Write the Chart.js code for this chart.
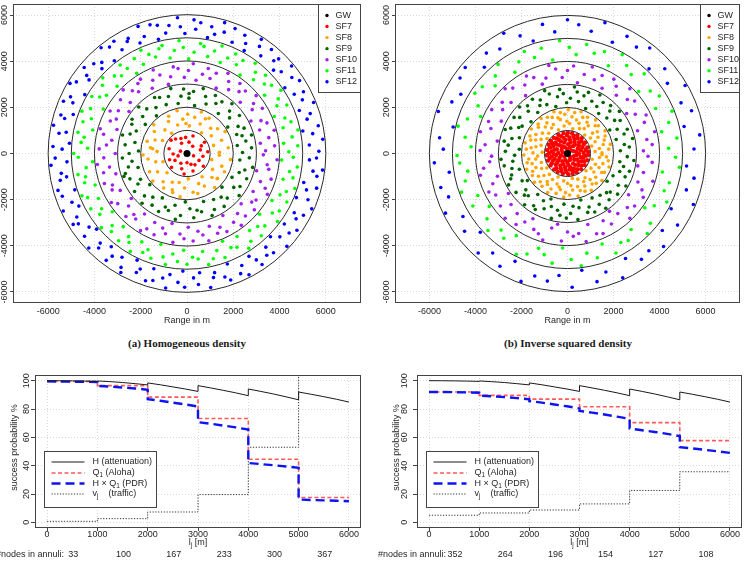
<!DOCTYPE html>
<html>
<head>
<meta charset="utf-8">
<script src="https://cdn.jsdelivr.net/npm/chart.js@4.4.1/dist/chart.umd.min.js"></script>
<style>
  body { margin: 0; background: #fff; }
  #page { position: relative; width: 744px; height: 564px; overflow: hidden; }
  canvas { position: absolute; }
  .caption { position: absolute; width: 372px; text-align: center; line-height: 14px;
             font: bold 11px "Liberation Serif", "DejaVu Serif", serif; color: #1a1a1a; }
</style>
</head>
<body>
<div id="page">
  <canvas id="mapHom" width="372" height="332" style="left:0;top:0"></canvas>
  <canvas id="mapInv" width="372" height="332" style="left:372px;top:0"></canvas>
  <div class="caption" style="left:1px;top:337px">(a) Homogeneous density</div>
  <div class="caption" style="left:382px;top:337px">(b) Inverse squared density</div>
  <canvas id="probHom" width="372" height="204" style="left:0;top:360px"></canvas>
  <canvas id="probInv" width="372" height="204" style="left:372px;top:360px"></canvas>
</div>
<script>
// ---------------- data ----------------
const sfNames = ['SF7', 'SF8', 'SF9', 'SF10', 'SF11', 'SF12'];
const sfColors = ['#ff0000', '#ffa500', '#006400', '#a020f0', '#00ff00', '#0000ff'];
const ringRadii = [1000, 2000, 3000, 4000, 5000, 6000];
const mapTicks = [-6000, -4000, -2000, 0, 2000, 4000, 6000];

// node positions, pairs of [radius in 100 m, angle in degrees]
const homSF7 = [6,15, 9,33, 4,52, 8,71, 7,95, 5,118, 9,140, 3,160, 6,182, 8,200, 9,222, 5,238, 7,251, 4,270, 8,289, 6,305, 9,322, 3,340, 7,350, 5,80, 8,128, 6,210, 9,262, 7,28, 4,195, 8,165, 9,5, 6,330, 7,112, 5,290];
const homSF8 = [14,2, 18,8, 12,17, 16,21, 19,30, 13,36, 17,39, 15,47, 11,55, 18,58, 14,66, 19,71, 16,78, 12,85, 17,89, 15,97, 19,103, 13,108, 18,116, 16,120, 11,127, 14,133, 19,139, 17,146, 12,152, 15,157, 18,163, 16,171, 13,176, 19,182, 17,188, 14,195, 11,199, 18,206, 15,212, 19,219, 12,224, 16,230, 18,236, 14,243, 17,248, 13,255, 19,261, 15,266, 11,273, 17,279, 18,285, 14,291, 16,298, 12,303, 19,309, 15,316, 17,321, 13,328, 18,334, 16,340, 11,346, 19,352, 14,357, 17,62, 15,172, 18,250, 13,92, 17,320];
const homSF9 = [24,1, 28,5, 22,9, 26,12, 29,16, 23,21, 27,24, 25,28, 21,33, 28,36, 24,40, 26,45, 29,48, 22,52, 27,56, 25,60, 28,64, 23,69, 26,72, 29,76, 21,81, 27,84, 24,88, 28,93, 25,96, 22,100, 29,104, 26,108, 23,113, 27,116, 28,120, 24,124, 21,129, 26,132, 29,136, 25,140, 22,145, 28,148, 27,152, 24,156, 26,161, 29,164, 23,168, 27,172, 21,177, 25,180, 28,184, 24,188, 26,193, 22,196, 29,200, 27,204, 23,209, 25,212, 28,216, 21,220, 26,225, 29,228, 24,232, 27,236, 22,241, 28,244, 25,248, 26,252, 23,257, 29,260, 27,264, 21,268, 24,273, 28,276, 25,280, 26,284, 22,289, 29,292, 27,296, 23,300, 28,305, 24,308, 26,312, 21,316, 29,321, 25,324, 27,328, 22,332, 28,337, 24,340, 26,344, 29,348, 23,353, 27,356, 25,18, 28,198, 26,88];
const homSF10 = [34,2, 38,5, 32,8, 36,11, 39,15, 33,18, 37,21, 35,24, 31,27, 38,31, 34,34, 36,37, 39,40, 32,44, 37,47, 35,50, 38,53, 33,57, 36,60, 39,63, 31,66, 37,70, 34,73, 38,76, 35,79, 32,83, 39,86, 36,89, 33,92, 37,96, 38,99, 34,102, 31,105, 36,109, 39,112, 35,115, 32,118, 38,122, 37,125, 34,128, 36,131, 39,135, 33,138, 37,141, 31,144, 35,148, 38,151, 34,154, 36,157, 32,161, 39,164, 37,167, 33,170, 35,174, 38,177, 31,180, 36,183, 39,187, 34,190, 37,193, 32,196, 38,200, 35,203, 36,206, 33,209, 39,213, 37,216, 31,219, 34,222, 38,226, 35,229, 36,232, 32,235, 39,239, 37,242, 33,245, 38,248, 34,252, 36,255, 31,258, 39,261, 35,265, 37,268, 32,271, 38,274, 34,278, 36,281, 39,284, 33,287, 37,291, 35,294, 38,297, 31,300, 36,304, 39,307, 34,310, 37,313, 32,317, 38,320, 35,323, 36,326, 33,330, 39,333, 37,336, 34,339, 38,343, 31,346, 36,349, 35,352, 39,356, 33,359];
const homSF11 = [44,1, 48,4, 42,6, 46,9, 49,12, 43,15, 47,17, 45,20, 41,23, 48,26, 44,28, 46,31, 49,34, 42,37, 47,39, 45,42, 48,45, 43,48, 46,50, 49,53, 41,56, 47,59, 44,61, 48,64, 45,67, 42,70, 49,72, 46,75, 43,78, 47,81, 48,83, 44,86, 41,89, 46,92, 49,94, 45,97, 42,100, 48,103, 47,105, 44,108, 46,111, 49,114, 43,116, 47,119, 41,122, 45,125, 48,127, 44,130, 46,133, 42,136, 49,138, 47,141, 43,144, 45,147, 48,149, 41,152, 46,155, 49,158, 44,160, 47,163, 42,166, 48,169, 45,171, 46,174, 43,177, 49,180, 47,182, 41,185, 44,188, 48,191, 45,193, 46,196, 42,199, 49,202, 47,204, 43,207, 48,210, 44,213, 46,215, 41,218, 49,221, 45,224, 47,226, 42,229, 48,232, 44,235, 46,237, 49,240, 43,243, 47,246, 45,248, 48,251, 41,254, 46,257, 49,259, 44,262, 47,265, 42,268, 48,270, 45,273, 46,276, 43,279, 49,281, 47,284, 44,287, 48,290, 41,292, 45,295, 46,298, 42,301, 49,303, 47,306, 43,309, 48,312, 44,314, 46,317, 41,320, 49,323, 45,325, 47,328, 42,331, 48,334, 44,336, 46,339, 49,342, 43,345, 47,347, 45,350, 48,353, 41,356, 46,358];
const homSF12 = [57,1, 53,4, 59,6, 55,9, 51,11, 58,12, 54,16, 56,18, 52,21, 59,22, 55,25, 57,28, 53,29, 58,33, 51,34, 56,36, 59,40, 54,41, 52,44, 57,46, 55,47, 58,51, 53,53, 56,56, 59,57, 51,61, 54,62, 57,64, 52,68, 58,69, 55,73, 59,74, 53,77, 56,79, 51,80, 57,84, 54,86, 58,87, 52,91, 55,93, 59,94, 56,98, 53,100, 57,103, 51,104, 58,106, 54,110, 59,111, 52,113, 56,117, 55,118, 53,122, 58,123, 57,126, 51,128, 59,129, 54,133, 52,135, 56,136, 58,140, 55,142, 53,143, 57,147, 59,149, 51,150, 56,154, 54,156, 58,157, 52,161, 57,163, 55,164, 59,168, 53,170, 56,171, 51,175, 58,177, 54,178, 57,182, 52,184, 59,185, 55,189, 53,191, 56,192, 58,196, 51,198, 57,199, 54,203, 59,205, 52,206, 55,210, 58,212, 56,213, 53,217, 57,219, 51,220, 59,224, 54,226, 56,227, 52,231, 58,233, 55,234, 53,238, 57,240, 59,241, 51,245, 56,247, 54,248, 58,252, 52,254, 57,255, 55,259, 59,261, 53,262, 56,266, 51,268, 58,269, 54,273, 57,275, 52,276, 59,280, 55,282, 53,283, 56,287, 58,289, 51,290, 57,294, 54,296, 59,297, 52,301, 55,303, 58,304, 56,308, 53,310, 57,311, 51,315, 59,317, 54,318, 56,322, 52,324, 58,325, 55,329, 53,331, 57,332, 59,336, 51,338, 56,339, 54,343, 58,345, 52,346, 57,350, 55,352, 59,353, 53,357, 56,358];

const invSF7 = [7,2, 9,5, 4,8, 8,11, 6,14, 9,17, 3,20, 7,23, 5,26, 8,29, 9,32, 6,35, 2,38, 8,41, 7,44, 9,47, 5,50, 4,53, 8,56, 6,59, 9,62, 7,65, 3,68, 8,71, 5,74, 9,77, 6,80, 7,83, 4,86, 9,89, 8,92, 2,95, 6,98, 9,101, 7,104, 5,107, 8,110, 3,113, 9,116, 6,119, 7,122, 8,125, 4,128, 9,131, 5,134, 7,137, 6,140, 9,143, 8,146, 3,149, 7,152, 9,155, 5,158, 8,161, 6,164, 2,167, 9,170, 7,173, 4,176, 8,179, 6,182, 9,185, 5,188, 7,191, 8,194, 3,197, 9,200, 6,203, 7,206, 4,209, 8,212, 9,215, 5,218, 6,221, 7,224, 2,227, 9,230, 8,233, 4,236, 6,239, 9,242, 7,245, 5,248, 8,251, 3,254, 9,257, 6,260, 7,263, 8,266, 4,269, 9,272, 5,275, 7,278, 6,281, 9,284, 8,287, 3,290, 7,293, 9,296, 5,299, 8,302, 6,305, 2,308, 9,311, 7,314, 4,317, 8,320, 6,323, 9,326, 5,329, 7,332, 8,335, 3,338, 9,341, 6,344, 7,347, 4,350, 8,353, 9,356, 5,359];
const invSF8 = [15,1, 12,4, 18,6, 14,9, 19,12, 16,14, 11,17, 17,20, 13,23, 18,25, 15,28, 19,31, 12,34, 16,36, 14,39, 18,42, 17,45, 11,47, 19,50, 15,53, 13,56, 16,58, 18,61, 12,64, 17,67, 14,69, 19,72, 15,75, 11,78, 18,80, 16,83, 13,86, 19,89, 14,91, 17,94, 12,97, 18,100, 15,102, 16,105, 19,108, 11,111, 17,113, 14,116, 18,119, 13,122, 16,124, 19,127, 15,130, 12,133, 18,135, 17,138, 14,141, 11,144, 19,146, 16,149, 13,152, 18,155, 15,157, 17,160, 12,163, 19,166, 14,168, 16,171, 18,174, 11,177, 15,179, 19,182, 13,185, 17,188, 14,190, 18,193, 16,196, 12,199, 19,201, 15,204, 17,207, 13,210, 18,212, 11,215, 16,218, 19,221, 14,223, 17,226, 12,229, 18,232, 15,234, 16,237, 13,240, 19,243, 17,245, 11,248, 14,251, 18,254, 15,256, 16,259, 12,262, 19,265, 17,267, 13,270, 18,273, 14,276, 16,278, 11,281, 19,284, 15,287, 17,289, 12,292, 18,295, 16,298, 14,300, 19,303, 13,306, 17,309, 15,311, 18,314, 11,317, 16,320, 19,322, 14,325, 12,328, 17,331, 18,333, 15,336, 13,339, 19,342, 16,344, 11,347, 18,350, 14,353, 17,355, 15,358];
const invSF9 = [23,3, 27,6, 25,9, 29,13, 22,16, 26,19, 28,22, 24,26, 21,29, 27,32, 25,35, 29,39, 23,42, 26,45, 28,48, 22,52, 27,55, 24,58, 29,61, 25,65, 21,68, 28,71, 26,74, 23,78, 27,81, 29,84, 24,87, 22,91, 26,94, 28,97, 25,100, 21,104, 27,107, 29,110, 23,113, 26,117, 24,120, 28,123, 22,126, 27,130, 25,133, 29,136, 21,139, 26,143, 28,146, 23,149, 24,152, 27,156, 29,159, 22,162, 25,165, 28,169, 26,172, 21,175, 27,178, 23,182, 29,185, 24,188, 28,191, 25,195, 22,198, 26,201, 27,204, 29,208, 23,211, 21,214, 28,217, 24,221, 26,224, 25,227, 29,230, 22,234, 27,237, 28,240, 23,243, 26,247, 21,250, 24,253, 29,256, 25,260, 27,263, 22,266, 28,269, 26,273, 23,276, 29,279, 24,282, 21,286, 27,289, 25,292, 28,295, 22,299, 26,302, 29,305, 23,308, 27,312, 24,315, 25,318, 28,321, 21,325, 26,328, 29,331, 22,334, 27,338, 24,341, 28,344, 25,347, 23,351, 29,354, 26,357];
const invSF10 = [33,2, 37,6, 35,10, 39,14, 32,18, 36,22, 38,26, 34,30, 31,34, 37,38, 35,42, 39,46, 33,50, 36,54, 38,58, 32,62, 37,66, 34,70, 39,74, 35,78, 31,82, 38,86, 36,90, 33,94, 37,98, 39,102, 34,106, 32,110, 36,114, 38,118, 35,122, 31,126, 37,130, 39,134, 33,138, 36,142, 34,146, 38,150, 32,154, 37,158, 35,162, 39,166, 31,170, 36,174, 38,178, 33,182, 34,186, 37,190, 39,194, 32,198, 35,202, 38,206, 36,210, 31,214, 37,218, 33,222, 39,226, 34,230, 38,234, 35,238, 32,242, 36,246, 37,250, 39,254, 33,258, 31,262, 38,266, 34,270, 36,274, 35,278, 39,282, 32,286, 37,290, 38,294, 33,298, 36,302, 31,306, 34,310, 39,314, 35,318, 37,322, 32,326, 38,330, 36,334, 33,338, 39,342, 34,346, 31,350, 37,354, 35,358];
const invSF11 = [44,3, 48,8, 42,13, 46,17, 49,22, 43,27, 47,32, 45,37, 41,41, 48,46, 44,51, 46,56, 49,61, 42,65, 47,70, 45,75, 48,80, 43,85, 46,89, 49,94, 41,99, 47,104, 44,109, 48,113, 45,118, 42,123, 49,128, 46,133, 43,137, 47,142, 48,147, 44,152, 41,157, 46,161, 49,166, 45,171, 42,176, 48,181, 47,185, 44,190, 46,195, 49,200, 43,205, 47,209, 41,214, 45,219, 48,224, 44,229, 46,233, 42,238, 49,243, 47,248, 43,253, 45,257, 48,262, 41,267, 46,272, 49,277, 44,281, 47,286, 42,291, 48,296, 45,301, 46,305, 43,310, 49,315, 47,320, 41,325, 44,329, 48,334, 45,339, 46,344, 42,349, 49,353, 47,358];
const invSF12 = [55,2, 58,8, 52,13, 57,19, 54,24, 59,30, 53,35, 56,41, 51,46, 58,52, 55,57, 57,63, 52,68, 59,74, 54,79, 56,85, 58,90, 53,96, 57,101, 51,107, 55,112, 59,118, 54,123, 56,129, 52,134, 58,140, 57,145, 53,151, 55,156, 59,162, 51,167, 56,173, 54,178, 58,184, 52,189, 57,195, 55,200, 59,206, 53,211, 56,217, 51,222, 58,228, 54,233, 57,239, 52,244, 59,250, 55,255, 56,261, 53,266, 58,272, 51,277, 57,283, 54,288, 59,294, 52,299, 56,305, 55,310, 58,316, 53,321, 57,327, 51,332, 59,338, 54,343, 56,349, 52,354];

// success probability curves (x in m, values in %)
const annulusStart = [0, 1000, 2000, 3000, 4000, 5000];
const probXTicks = [0, 1000, 2000, 3000, 4000, 5000, 6000];
const probYTicks = [0, 20, 40, 60, 80, 100];
const curveX = [0,250,500,750,1000, 1000,1250,1500,1750,2000, 2000,2250,2500,2750,3000, 3000,3250,3500,3750,4000, 4000,4250,4500,4750,5000, 5000,5250,5500,5750,6000];
const attenuation = [100,99.95,99.85,99.7,99.5, 99.8,99.3,98.7,97.9,97.0, 98.4,97.1,95.6,94.1,92.4, 96.5,94.9,93.2,91.4,89.4, 94.1,92.4,90.6,88.6,86.5, 92.0,90.4,88.7,86.9,84.9];
const pdrHom = [99.5,99.4,99.3,99.2,99.0, 96.3,95.8,95.2,94.5,93.6, 87.0,85.8,84.5,83.2,81.7, 70.7,69.6,68.3,67.0,65.5, 41.9,41.1,40.3,39.4,38.5, 16.1,15.8,15.5,15.2,14.9];
const pdrInv = [92.0,92.0,91.9,91.7,91.5, 89.4,89.0,88.4,87.7,86.9, 85.6,84.5,83.2,81.9,80.4, 78.7,77.4,76.1,74.6,73.0, 66.2,65.0,63.8,62.4,60.9, 53.1,52.2,51.2,50.1,49.0];
const alohaHom = [99.5, 96.5, 88.4, 73.3, 44.5, 17.5];
const alohaInv = [92.0, 89.6, 87.0, 81.6, 70.4, 57.7];
const trafficHom = [0.7, 2.6, 7.3, 19.6, 53.0, 150];
const trafficInv = [5.0, 6.6, 8.7, 13.0, 22.5, 35.7];
const nodesHom = [33, 100, 167, 233, 300, 367];
const nodesInv = [352, 264, 196, 154, 127, 108];

// ---------------- helpers ----------------
const fam = '"Liberation Sans", Arial, sans-serif';
const textColor = '#262626';
Chart.defaults.font.family = fam;
Chart.defaults.font.size = 9;
Chart.defaults.color = textColor;

function toXY(pairs) {
  const pts = [];
  for (let i = 0; i < pairs.length; i += 2) {
    const r = pairs[i] * 100, a = pairs[i + 1] * Math.PI / 180;
    pts.push({x: r * Math.cos(a), y: r * Math.sin(a)});
  }
  return pts;
}

function curve(xs, ys) {
  return xs.map((x, i) => ({x: x, y: ys[i]}));
}

function steps(vals) {
  const pts = [];
  vals.forEach((v, i) => {
    pts.push({x: annulusStart[i], y: v});
    pts.push({x: annulusStart[i] + 1000, y: v});
  });
  return pts;
}

// draws text pieces, some of them as subscripts
function drawParts(ctx, parts, x, y, align) {
  let w = 0;
  parts.forEach(p => { ctx.font = (p[1] ? '6.5px ' : '9px ') + fam; w += ctx.measureText(p[0]).width; });
  let cx = align === 'center' ? x - w / 2 : x;
  ctx.textAlign = 'left';
  ctx.textBaseline = 'middle';
  parts.forEach(p => {
    ctx.font = (p[1] ? '6.5px ' : '9px ') + fam;
    ctx.fillText(p[0], cx, p[1] ? y + 2.5 : y);
    cx += ctx.measureText(p[0]).width;
  });
}

const frame = {
  id: 'frame',
  afterDraw(chart) {
    const a = chart.chartArea, ctx = chart.ctx;
    ctx.save();
    ctx.strokeStyle = '#444';
    ctx.lineWidth = 1;
    ctx.strokeRect(Math.round(a.left) + 0.5, Math.round(a.top) + 0.5,
                   Math.round(a.right - a.left) - 1, Math.round(a.bottom - a.top) - 1);
    ctx.restore();
  }
};

// rotated y tick labels and y title, placed like R does it
const yLabels = {
  id: 'yLabels',
  afterDraw(chart, args, opts) {
    const s = chart.scales.y, ctx = chart.ctx, a = chart.chartArea;
    ctx.save();
    ctx.fillStyle = textColor;
    ctx.font = '9px ' + fam;
    ctx.textAlign = 'center';
    ctx.textBaseline = 'middle';
    s.ticks.forEach(t => {
      ctx.save();
      ctx.translate(opts.x, s.getPixelForValue(t.value));
      ctx.rotate(-Math.PI / 2);
      ctx.fillText(String(t.value), 0, 0);
      ctx.restore();
    });
    if (opts.title) {
      ctx.translate(opts.titleX, (a.top + a.bottom) / 2 - 4);
      ctx.rotate(-Math.PI / 2);
      ctx.fillText(opts.title, 0, 0);
    }
    ctx.restore();
  }
};

const rings = {
  id: 'rings',
  afterDatasetsDraw(chart) {
    const {ctx, scales: {x, y}} = chart;
    const cx = x.getPixelForValue(0), cy = y.getPixelForValue(0);
    ctx.save();
    ctx.strokeStyle = '#2b2b2b';
    ctx.lineWidth = 1;
    ringRadii.forEach(r => {
      ctx.beginPath();
      ctx.arc(cx, cy, x.getPixelForValue(r) - cx, 0, 2 * Math.PI);
      ctx.stroke();
    });
    ctx.restore();
  }
};

const mapLegend = {
  id: 'mapLegend',
  afterDraw(chart, args, o) {
    const ctx = chart.ctx;
    const bx = o.x + 0.5, by = chart.chartArea.top + 0.5;
    ctx.save();
    ctx.fillStyle = '#fff';
    ctx.fillRect(bx, by, o.w, 88);
    ctx.strokeStyle = '#444';
    ctx.lineWidth = 1;
    ctx.strokeRect(bx, by, o.w, 88);
    ctx.font = '9px ' + fam;
    ctx.textAlign = 'left';
    ctx.textBaseline = 'middle';
    chart.data.datasets.forEach((d, i) => {
      const y = by + 11 + i * 11.05;
      ctx.fillStyle = d.backgroundColor;
      ctx.beginPath();
      ctx.arc(bx + 8.5, y, 1.7, 0, 2 * Math.PI);
      ctx.fill();
      ctx.fillStyle = textColor;
      ctx.fillText(d.label, bx + 17, y);
    });
    ctx.restore();
  }
};

const legendParts = [
  [['H (attenuation)']],
  [['Q'], ['1', 1], [' (Aloha)']],
  [['H \u00d7 Q'], ['1', 1], [' (PDR)']],
  [['v'], ['j', 1], ['    (traffic)']]
];

const probLegend = {
  id: 'probLegend',
  afterDraw(chart) {
    const {ctx, chartArea: a} = chart;
    const bx = Math.round(a.left + 9) + 0.5, by = Math.round(a.top + 76) + 0.5;
    const rows = [10.5, 21.5, 32, 42.5];
    ctx.save();
    ctx.fillStyle = '#fff';
    ctx.fillRect(bx, by, 112, 56);
    ctx.strokeStyle = '#444';
    ctx.lineWidth = 1;
    ctx.strokeRect(bx, by, 112, 56);
    chart.data.datasets.forEach((d, i) => {
      const y = by + rows[i];
      ctx.save();
      ctx.strokeStyle = d.borderColor;
      ctx.lineWidth = d.borderWidth;
      ctx.setLineDash(d.borderDash || []);
      ctx.beginPath();
      ctx.moveTo(bx + 7, y);
      ctx.lineTo(bx + 40, y);
      ctx.stroke();
      ctx.restore();
      ctx.fillStyle = textColor;
      drawParts(ctx, legendParts[i], bx + 48, y, 'left');
    });
    ctx.restore();
  }
};

const probText = {
  id: 'probText',
  afterDraw(chart, args, o) {
    const {ctx, scales: {x}} = chart;
    ctx.save();
    ctx.fillStyle = textColor;
    drawParts(ctx, [['l'], ['j', 1], [' [m]']], x.getPixelForValue(3000), 183, 'center');
    ctx.font = '9px ' + fam;
    ctx.textBaseline = 'middle';
    ctx.textAlign = 'right';
    ctx.fillText('#nodes in annuli:', x.getPixelForValue(0) + 17, 195);
    ctx.textAlign = 'center';
    o.nodes.forEach((n, i) => ctx.fillText(String(n), x.getPixelForValue(annulusStart[i] + 500) + 1, 195));
    ctx.restore();
  }
};

function gridOpts(tickLen) {
  return {
    color: '#d9d9d9',
    drawTicks: tickLen > 0,
    tickLength: tickLen,
    tickColor: '#444',
    tickWidth: 1,
    tickBorderDash: []
  };
}

// ---------------- top: node maps ----------------
function mapChart(id, groups, xHalf, yWidth, padRight, labelX, legend) {
  const datasets = [{
    label: 'GW', data: [{x: 0, y: 0}], backgroundColor: '#000',
    pointRadius: 3.5, borderWidth: 0, order: 0
  }];
  groups.forEach((g, i) => datasets.push({
    label: sfNames[i],
    data: toXY(g),
    backgroundColor: sfColors[i],
    pointRadius: (id === 'mapInv' && i === 0) ? 2.2 : 1.8,
    borderWidth: 0,
    order: 1
  }));
  return new Chart(document.getElementById(id), {
    type: 'scatter',
    data: {datasets: datasets},
    plugins: [rings, frame, mapLegend, yLabels],
    options: {
      responsive: false,
      animation: false,
      events: [],
      layout: {padding: {left: 0, right: padRight, top: 3, bottom: 0}},
      plugins: {
        legend: {display: false},
        tooltip: {enabled: false},
        mapLegend: legend,
        yLabels: {x: labelX}
      },
      scales: {
        x: {
          type: 'linear', min: -xHalf, max: xHalf,
          afterBuildTicks: s => { s.ticks = mapTicks.map(v => ({value: v})); },
          afterFit: s => { s.height = 29; },
          grid: gridOpts(0),
          border: {display: false, dash: [1, 2]},
          ticks: {padding: 3.3, maxRotation: 0, autoSkip: false, callback: v => String(v)},
          title: {display: true, text: 'Range in m', font: {size: 9}, padding: {top: 0, bottom: 5.6}}
        },
        y: {
          type: 'linear', min: -6480, max: 6480,
          afterBuildTicks: s => { s.ticks = mapTicks.map(v => ({value: v})); },
          afterFit: s => { s.width = yWidth; },
          grid: gridOpts(3),
          border: {display: false, dash: [1, 2]},
          ticks: {display: false}
        }
      }
    }
  });
}

mapChart('mapHom', [homSF7, homSF8, homSF9, homSF10, homSF11, homSF12], 7520, 13, 11, 5, {x: 318, w: 42});
mapChart('mapInv', [invSF7, invSF8, invSF9, invSF10, invSF11, invSF12], 7495, 23, 2, 15, {x: 328, w: 39});

// ---------------- bottom: success probability ----------------
function probChart(id, pdr, aloha, traffic, nodes, yWidth, padRight, labelX, titleX) {
  return new Chart(document.getElementById(id), {
    type: 'scatter',
    data: {
      datasets: [
        {label: 'H (attenuation)', data: curve(curveX, attenuation), borderColor: '#1a1a1a',
         borderWidth: 1, borderDash: [], order: 1},
        {label: 'Q1 (Aloha)', data: steps(aloha), borderColor: '#ff5a5a',
         borderWidth: 1.6, borderDash: [4, 2.5], order: 3},
        {label: 'H x Q1 (PDR)', data: curve(curveX, pdr), borderColor: '#0d14f0',
         borderWidth: 2.4, borderDash: [9, 5], order: 2},
        {label: 'vj (traffic)', data: steps(traffic), borderColor: '#333',
         borderWidth: 1, borderDash: [1.2, 1.6], order: 4}
      ].map(d => Object.assign(d, {showLine: true, pointRadius: 0, fill: false, tension: 0}))
    },
    plugins: [frame, probLegend, yLabels, probText],
    options: {
      responsive: false,
      animation: false,
      events: [],
      layout: {padding: {left: 0, right: padRight, top: 15, bottom: 0}},
      plugins: {
        legend: {display: false},
        tooltip: {enabled: false},
        yLabels: {x: labelX, title: 'success probability %', titleX: titleX},
        probText: {nodes: nodes}
      },
      scales: {
        x: {
          type: 'linear', min: -240, max: 6240,
          afterBuildTicks: s => { s.ticks = probXTicks.map(v => ({value: v})); },
          afterFit: s => { s.height = 36; },
          grid: gridOpts(3),
          border: {display: false, dash: [1, 2]},
          ticks: {padding: -2, maxRotation: 0, autoSkip: false, callback: v => String(v)}
        },
        y: {
          type: 'linear', min: -4, max: 104,
          afterBuildTicks: s => { s.ticks = probYTicks.map(v => ({value: v})); },
          afterFit: s => { s.width = yWidth; },
          grid: gridOpts(4),
          border: {display: false, dash: [1, 2]},
          ticks: {display: false}
        }
      }
    }
  });
}

probChart('probHom', pdrHom, alohaHom, trafficHom, nodesHom, 35, 11, 27, 15);
probChart('probInv', pdrInv, alohaInv, trafficInv, nodesInv, 45, 2, 33, 25);
</script>
</body>
</html>
